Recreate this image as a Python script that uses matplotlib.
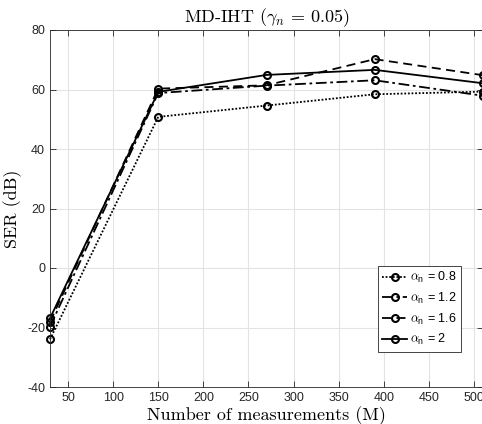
import matplotlib
matplotlib.use('Agg')
import matplotlib.pyplot as plt

plt.rcParams.update({
    'font.family': ['Liberation Sans', 'DejaVu Sans'],
    'font.size': 9,
    'mathtext.fontset': 'cm',
    'axes.unicode_minus': False,
})

M = [30, 150, 270, 390, 510]
ser_08 = [-24.0, 50.8, 54.6, 58.4, 59.3]
ser_12 = [-19.7, 58.8, 61.3, 63.1, 57.9]
ser_16 = [-18.1, 60.3, 61.4, 70.2, 64.8]
ser_20 = [-16.9, 59.2, 64.9, 66.6, 62.1]
labels = ['0.8', '1.2', '1.6', '2']
styles = [(0, (1, 1)), (0, (6, 2, 1.5, 2)), (0, (5, 3)), '-']

fig = plt.figure(figsize=(4.82, 4.24), dpi=100)
ax = fig.add_axes([50 / 482, 1 - 387 / 424, 433 / 482, 357 / 424])

for y, lab, ls in zip([ser_08, ser_12, ser_16, ser_20], labels, styles):
    ax.plot(M, y, color='black', linestyle=ls, linewidth=1.3, marker='o',
            markersize=5, markerfacecolor='none', markeredgewidth=1.5,
            label=r'$\alpha_{\mathregular{n}}$ = ' + lab, clip_on=False)

ax.set_xlim(30, 510)
ax.set_ylim(-40, 80)
ax.set_xticks(range(50, 501, 50))
ax.set_yticks(range(-40, 81, 20))
ax.grid(True, color='#e3e3e3', linewidth=0.8)
ax.set_axisbelow(True)
ax.tick_params(direction='in', top=True, right=True, length=4, width=0.6,
               colors='#262626', labelsize=9, labelcolor='#262626')
for s in ax.spines.values():
    s.set_color('#262626')
    s.set_linewidth(0.6)

ax.set_xlabel('Number of measurements (M)', family='cmr10', fontsize=13, labelpad=2)
ax.set_ylabel('SER (dB)', family='cmr10', fontsize=13, labelpad=4)
ax.set_title(r'MD-IHT ($\gamma_n\,=\,0.05$)', family='cmr10', fontsize=13, pad=6)

leg = ax.legend(loc='lower right', bbox_to_anchor=(0.9485, 0.099), fontsize=9,
                handlelength=2.0, handletextpad=0.2, borderpad=0.35,
                labelspacing=0.45, fancybox=False, framealpha=1,
                edgecolor='#262626', borderaxespad=0)
leg.get_frame().set_linewidth(0.6)

fig.savefig('out.png', dpi=100)
